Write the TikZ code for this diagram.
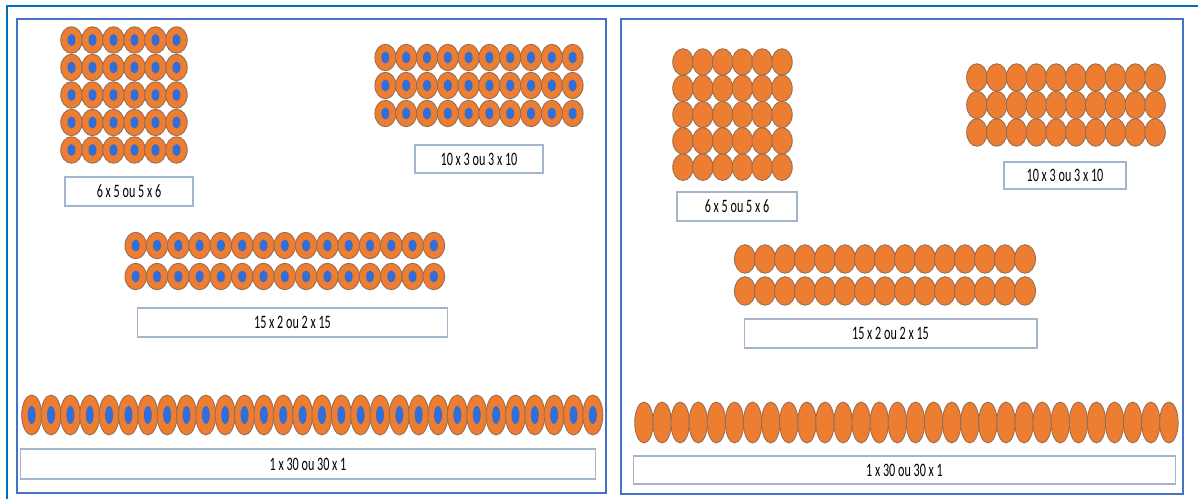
\documentclass[tikz,border=0pt]{standalone}
\usepackage{fontspec}
\newfontfamily\etiqfont[FakeStretch=0.64]{Carlito}
\usepackage{xcolor}
\usetikzlibrary{shapes.geometric,positioning}

\definecolor{cadre}{RGB}{0,112,192}
\definecolor{panneau}{RGB}{68,114,196}
\definecolor{orangeJ}{RGB}{237,125,49}
\definecolor{bordJ}{RGB}{150,110,85}
\definecolor{bleuJ}{RGB}{50,110,215}
\definecolor{bordE}{RGB}{165,180,205}

\begin{document}
\begin{tikzpicture}[
    x=0.02cm, y=-0.02cm,
    jeton/.style 2 args={ellipse, draw=bordJ, fill=orangeJ, line width=0.5pt,
        inner sep=0pt, minimum width=#1, minimum height=#2},
    centre/.style 2 args={path picture={\fill[bleuJ]
        (path picture bounding box.center) ellipse [x radius=#1, y radius=#2];}},
    etiq/.style={rectangle, draw=bordE, line width=0.6pt, fill=white,
        inner sep=0pt, font=\etiqfont\fontsize{10.8}{12}\selectfont},
    panel/.style={draw=panneau, line width=0.7pt}
]
    \useasboundingbox (0,0) rectangle (1198,499);
    \draw[cadre, line width=1.3pt] (7,499) -- (7,6) -- (1198,6);
    \draw[panel] (17,19) rectangle (606,493);
    \draw[panel] (621,19) rectangle (1183,494);

    % left panel
    \foreach \i in {0,...,5}
        \foreach \j in {0,...,4}
            \node[jeton={0.43cm}{0.53cm}, centre={0.08cm}{0.12cm}] (ga-\i-\j)
                at ({71.5+21*\i},{40+27.5*\j}) {};
    \foreach \i in {0,...,9}
        \foreach \j in {0,...,2}
            \node[jeton={0.42cm}{0.53cm}, centre={0.08cm}{0.12cm}] (gb-\i-\j)
                at ({385.4+20.8*\i},{57.5+28*\j}) {};
    \foreach \i in {0,...,14}
        \foreach \j in {0,...,1}
            \node[jeton={0.43cm}{0.53cm}, centre={0.08cm}{0.12cm}] (gc-\i-\j)
                at ({135.7+21.3*\i},{245.5+31*\j}) {};
    \foreach \i in {0,...,29}
        \node[jeton={0.4cm}{0.8cm}, centre={0.08cm}{0.18cm}] (gd-\i)
            at ({31.7+19.35*\i},415) {};

    \node[etiq, minimum width=2.56cm, minimum height=0.58cm] (la) at (129,191.5) {6 x 5 ou 5 x 6};
    \node[etiq, minimum width=2.56cm, minimum height=0.56cm] (lb) at (479,159) {10 x 3 ou 3 x 10};
    \node[etiq, minimum width=6.22cm, minimum height=0.58cm] (lc) at (292.5,322.5) {15 x 2 ou 2 x 15};
    \node[etiq, minimum width=11.52cm, minimum height=0.6cm] (ld) at (308,464) {1 x 30 ou 30 x 1};

    % right panel
    \foreach \i in {0,...,5}
        \foreach \j in {0,...,4}
            \node[jeton={0.41cm}{0.53cm}] (da-\i-\j)
                at ({683+19.8*\i},{62+26.3*\j}) {};
    \foreach \i in {0,...,9}
        \foreach \j in {0,...,2}
            \node[jeton={0.41cm}{0.55cm}] (db-\i-\j)
                at ({976.9+19.8*\i},{77.5+27.5*\j}) {};
    \foreach \i in {0,...,14}
        \foreach \j in {0,...,1}
            \node[jeton={0.42cm}{0.57cm}] (dc-\i-\j)
                at ({745+20*\i},{259+32*\j}) {};
    \foreach \i in {0,...,29}
        \node[jeton={0.37cm}{0.82cm}] (dd-\i)
            at ({644+18.1*\i},422.5) {};

    \node[etiq, minimum width=2.4cm, minimum height=0.58cm] (ra) at (737,206.5) {6 x 5 ou 5 x 6};
    \node[etiq, minimum width=2.44cm, minimum height=0.54cm] (rb) at (1065,175.5) {10 x 3 ou 3 x 10};
    \node[etiq, minimum width=5.86cm, minimum height=0.58cm] (rc) at (890.5,333.5) {15 x 2 ou 2 x 15};
    \node[etiq, minimum width=10.86cm, minimum height=0.56cm] (rd) at (904.5,470) {1 x 30 ou 30 x 1};
\end{tikzpicture}
\end{document}
